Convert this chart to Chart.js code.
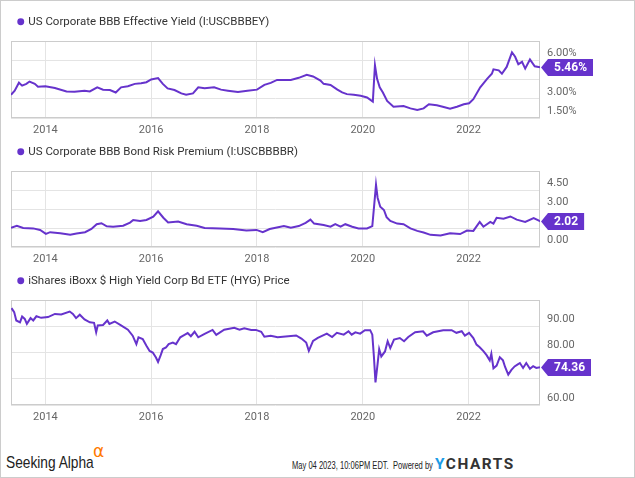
<!DOCTYPE html>
<html>
<head>
<meta charset="utf-8">
<script src="https://cdn.jsdelivr.net/npm/chart.js@4.4.0/dist/chart.umd.min.js"></script>
<style>
    html, body { margin: 0; padding: 0; background: #fff; }
    #frame { position: relative; width: 635px; height: 478px; overflow: hidden; background: #fff; }
    #edge { position: absolute; left: 0; top: 0; right: 0; bottom: 0; border: 1px solid #cccccc; pointer-events: none; }
    canvas.panel { position: absolute; left: 0; }
    .foot { position: absolute; white-space: nowrap; transform-origin: 0 50%; line-height: 1; }
    #sa { left: 6px; top: 454px; font-family: "Liberation Sans", sans-serif; font-size: 17px; color: #222; }
    #alpha { left: 93px; top: 443px; font-family: "DejaVu Sans", sans-serif; font-size: 17px; color: #ff7a00; }
    #stamp { left: 292px; top: 460px; font-family: "Liberation Sans", sans-serif; font-size: 11px; color: #222; }
    #yc { left: 435px; top: 457px; font-family: Roboto, "Liberation Sans", sans-serif; font-weight: bold; font-size: 15px; letter-spacing: 1.5px; color: #333; }
    #yc span { color: #1a9be6; }
</style>
</head>
<body>
<div id="frame">
    <canvas id="yield_chart" class="panel" width="635" height="130" style="top:8px"></canvas>
    <canvas id="premium_chart" class="panel" width="635" height="129" style="top:138px"></canvas>
    <canvas id="hyg_chart" class="panel" width="635" height="158" style="top:267px"></canvas>
    <div id="sa" class="foot" data-w="88">Seeking Alpha</div>
    <div id="alpha" class="foot" data-w="11">α</div>
    <div id="stamp" class="foot" data-w="141">May 04 2023, 10:06PM EDT.&nbsp; Powered by</div>
    <div id="yc" class="foot" data-w="80"><span>Y</span>CHARTS</div>
    <div id="edge"></div>
</div>
<script>
const purple = '#6633cc';
const xMin = 2013.35;
const xMax = 2023.35;
const yearTicks = [2014, 2016, 2018, 2020, 2022];

// US Corporate BBB Effective Yield (%)
const yieldDates = [2013.35, 2013.42, 2013.50, 2013.56, 2013.64, 2013.70, 2013.80, 2013.86, 2014.00, 2014.18,
    2014.40, 2014.55, 2014.74, 2014.84, 2014.98, 2015.09, 2015.22, 2015.33, 2015.43, 2015.56,
    2015.69, 2015.81, 2015.91, 2016.00, 2016.13, 2016.22, 2016.31, 2016.44, 2016.57, 2016.66,
    2016.79, 2016.89, 2017.01, 2017.19, 2017.32, 2017.45, 2017.64, 2017.82, 2018.00, 2018.14,
    2018.26, 2018.38, 2018.64, 2018.79, 2018.94, 2019.06, 2019.20, 2019.26, 2019.39, 2019.52,
    2019.61, 2019.70, 2019.83, 2019.96, 2020.08, 2020.19, 2020.23, 2020.27, 2020.32, 2020.38,
    2020.46, 2020.58, 2020.77, 2020.90, 2021.03, 2021.15, 2021.25, 2021.40, 2021.53, 2021.65,
    2021.78, 2021.91, 2022.01, 2022.09, 2022.22, 2022.35, 2022.44, 2022.47, 2022.57, 2022.63,
    2022.72, 2022.82, 2022.88, 2022.94, 2023.01, 2023.07, 2023.16, 2023.25, 2023.35];
const yieldValues = [3.31, 3.63, 4.25, 4.02, 4.16, 4.34, 4.16, 3.94, 3.97, 3.84,
    3.57, 3.55, 3.63, 3.57, 3.89, 3.71, 3.68, 3.49, 3.89, 3.97,
    4.16, 4.21, 4.29, 4.50, 4.61, 4.16, 3.81, 3.68, 3.42, 3.31,
    3.42, 3.89, 3.81, 3.89, 3.71, 3.63, 3.52, 3.63, 3.71, 4.08,
    4.24, 4.47, 4.47, 4.63, 4.87, 4.74, 4.42, 4.16, 4.08, 3.71,
    3.49, 3.36, 3.31, 3.23, 3.10, 2.78, 5.61, 4.55, 3.89, 3.49,
    2.83, 2.38, 2.44, 2.25, 2.12, 2.25, 2.57, 2.49, 2.36, 2.22,
    2.38, 2.57, 2.65, 2.97, 3.89, 4.55, 4.95, 5.29, 5.21, 4.95,
    5.48, 6.62, 6.27, 5.69, 5.88, 5.35, 6.06, 5.53, 5.46];
const yieldTicks = [1.5, 3, 4.5, 6];

// US Corporate BBB Bond Risk Premium
const premiumDates = [2013.35, 2013.46, 2013.58, 2013.77, 2013.90, 2014.01, 2014.09, 2014.28, 2014.47, 2014.59,
    2014.75, 2014.87, 2014.97, 2015.06, 2015.16, 2015.28, 2015.47, 2015.60, 2015.66, 2015.79,
    2015.91, 2016.04, 2016.13, 2016.23, 2016.32, 2016.51, 2016.67, 2016.86, 2017.01, 2017.30,
    2017.55, 2017.80, 2017.99, 2018.11, 2018.24, 2018.51, 2018.64, 2018.79, 2018.92, 2019.01,
    2019.08, 2019.26, 2019.39, 2019.48, 2019.58, 2019.67, 2019.80, 2019.92, 2020.08, 2020.18,
    2020.25, 2020.28, 2020.33, 2020.40, 2020.45, 2020.52, 2020.65, 2020.77, 2020.90, 2021.03,
    2021.15, 2021.28, 2021.47, 2021.65, 2021.84, 2021.97, 2022.09, 2022.21, 2022.28, 2022.41,
    2022.47, 2022.53, 2022.66, 2022.79, 2022.91, 2023.07, 2023.23, 2023.32, 2023.35];
const premiumValues = [1.52, 1.68, 1.50, 1.47, 1.35, 1.04, 1.17, 1.09, 0.96, 1.07,
    1.17, 1.42, 1.80, 1.88, 1.63, 1.60, 1.68, 1.93, 2.13, 2.06,
    2.13, 2.39, 2.82, 2.31, 1.93, 2.01, 1.80, 1.68, 1.50, 1.47,
    1.42, 1.30, 1.35, 1.17, 1.42, 1.65, 1.52, 1.65, 1.91, 2.16,
    1.85, 1.73, 1.60, 1.80, 1.60, 1.80, 1.60, 1.47, 1.47, 1.65,
    4.91, 3.89, 3.18, 2.92, 2.36, 2.06, 1.85, 1.80, 1.47, 1.27,
    1.14, 0.96, 0.91, 1.09, 1.02, 1.30, 1.27, 1.98, 1.60, 1.98,
    1.85, 2.31, 2.24, 2.41, 2.16, 1.98, 2.29, 2.11, 2.02];
const premiumTicks = [0, 1.5, 3, 4.5];

// iShares iBoxx $ High Yield Corp Bd ETF (HYG) Price
const hygDates = [2013.36, 2013.41, 2013.45, 2013.52, 2013.56, 2013.61, 2013.65, 2013.72, 2013.77, 2013.83,
    2013.92, 2014.05, 2014.18, 2014.30, 2014.46, 2014.52, 2014.58, 2014.65, 2014.74, 2014.84,
    2014.92, 2014.96, 2014.99, 2015.09, 2015.17, 2015.21, 2015.31, 2015.43, 2015.56, 2015.65,
    2015.72, 2015.76, 2015.84, 2015.91, 2015.97, 2016.03, 2016.09, 2016.13, 2016.18, 2016.22,
    2016.28, 2016.33, 2016.41, 2016.47, 2016.55, 2016.63, 2016.69, 2016.75, 2016.82, 2016.89,
    2017.01, 2017.16, 2017.23, 2017.38, 2017.57, 2017.67, 2017.76, 2017.89, 2017.98, 2018.08,
    2018.14, 2018.26, 2018.39, 2018.49, 2018.74, 2018.84, 2018.93, 2018.98, 2019.06, 2019.15,
    2019.32, 2019.42, 2019.51, 2019.64, 2019.73, 2019.79, 2019.86, 2019.95, 2020.04, 2020.14,
    2020.18, 2020.21, 2020.24, 2020.28, 2020.31, 2020.35, 2020.42, 2020.47, 2020.52, 2020.59,
    2020.70, 2020.78, 2020.86, 2020.99, 2021.14, 2021.21, 2021.33, 2021.52, 2021.68, 2021.77,
    2021.87, 2021.93, 2022.01, 2022.09, 2022.15, 2022.21, 2022.28, 2022.34, 2022.40, 2022.43,
    2022.47, 2022.53, 2022.59, 2022.65, 2022.69, 2022.75, 2022.81, 2022.87, 2022.93, 2022.97,
    2023.03, 2023.09, 2023.16, 2023.22, 2023.28, 2023.35];
const hygValues = [96.9, 95.4, 92.2, 91.5, 93.7, 92.8, 90.9, 93.1, 92.2, 93.8,
    93.2, 93.5, 94.7, 94.5, 95.6, 94.7, 93.1, 94.4, 92.6, 91.5,
    91.3, 87.7, 90.3, 90.5, 92.2, 90.9, 91.8, 90.3, 88.7, 86.4,
    83.2, 85.8, 85.1, 82.6, 80.6, 80.0, 78.1, 76.4, 79.0, 81.3,
    81.9, 83.2, 83.8, 83.2, 85.8, 86.7, 87.4, 86.2, 87.9, 85.8,
    87.1, 88.6, 86.7, 88.7, 89.4, 88.7, 89.2, 88.6, 88.6, 87.9,
    86.0, 86.4, 85.8, 86.0, 86.5, 85.3, 83.8, 80.6, 84.4, 85.6,
    87.2, 85.9, 87.5, 86.8, 88.1, 86.8, 87.7, 87.2, 88.5, 88.5,
    86.8, 78.5, 68.6, 75.7, 81.3, 78.5, 80.4, 84.3, 81.7, 84.9,
    85.5, 84.3, 85.9, 87.7, 88.1, 86.4, 87.7, 88.5, 88.5, 87.5,
    88.1, 86.4, 87.5, 85.5, 83.0, 82.0, 80.5, 79.0, 77.0, 79.5,
    74.0, 75.0, 78.2, 77.0, 74.5, 71.6, 73.4, 74.7, 75.5, 76.0,
    74.1, 76.0, 73.8, 74.8, 74.1, 74.36];
const hygTicks = [60, 70, 80, 90];

// keep the legend row a fixed height so the plot areas line up with the picture
const legendHeight = {
    id: 'legendHeight',
    afterInit(chart, args, opts) {
        const legend = chart.legend;
        const fit = legend.fit;
        legend.fit = function () {
            fit.call(this);
            this.height = opts.height;
        };
    }
};

const plotBorder = {
    id: 'plotBorder',
    beforeDatasetsDraw(chart) {
        const { ctx, chartArea } = chart;
        ctx.save();
        ctx.strokeStyle = '#cccccc';
        ctx.lineWidth = 1;
        ctx.strokeRect(chartArea.left + 0.5, chartArea.top + 0.5, chartArea.width - 1, chartArea.height - 1);
        ctx.restore();
    }
};

const endTag = {
    id: 'endTag',
    afterDraw(chart, args, opts) {
        const data = chart.data.datasets[0].data;
        const last = data[data.length - 1];
        const { ctx, chartArea } = chart;
        const y = Math.round(chart.scales.y.getPixelForValue(last.y)) + 0.5;
        const x = chartArea.right + 1;
        const text = opts.format(last.y);
        ctx.save();
        ctx.font = 'bold 12px Roboto';
        const w = ctx.measureText(text).width + 12;
        const h = 17;
        ctx.fillStyle = purple;
        ctx.beginPath();
        ctx.moveTo(x, y);
        ctx.lineTo(x + 7, y - h / 2);
        ctx.lineTo(x + 7 + w, y - h / 2);
        ctx.lineTo(x + 7 + w, y + h / 2);
        ctx.lineTo(x + 7, y + h / 2);
        ctx.closePath();
        ctx.fill();
        ctx.fillStyle = '#ffffff';
        ctx.textAlign = 'center';
        ctx.textBaseline = 'middle';
        ctx.fillText(text, x + 7 + w / 2, y + 0.5);
        ctx.restore();
    }
};

function criarPainel(canvasId, label, dates, values, yMin, yMax, yTicks, tickFmt, tagFmt, plotTop) {
    const ctx = document.getElementById(canvasId).getContext('2d');
    return new Chart(ctx, {
        type: 'line',
        data: {
            datasets: [{
                label: label,
                data: dates.map((d, i) => ({ x: d, y: values[i] })),
                borderColor: purple,
                backgroundColor: purple,
                borderWidth: 2,
                pointRadius: 0,
                tension: 0
            }]
        },
        options: {
            responsive: false,
            animation: false,
            layout: { padding: { left: 11, right: 0, top: 0, bottom: 0 } },
            plugins: {
                legend: {
                    position: 'top',
                    align: 'start',
                    labels: {
                        usePointStyle: true,
                        boxWidth: 3.5,
                        boxHeight: 3.5,
                        padding: 8,
                        color: '#333333',
                        font: { family: 'Roboto', size: 11.5 }
                    }
                },
                tooltip: { enabled: false },
                legendHeight: { height: plotTop },
                endTag: { format: tagFmt }
            },
            scales: {
                x: {
                    type: 'linear',
                    min: xMin,
                    max: xMax,
                    afterBuildTicks: scale => { scale.ticks = yearTicks.map(v => ({ value: v })); },
                    afterFit: scale => { scale.height = 20; },
                    grid: { color: '#e4e4e4', drawTicks: false },
                    border: { display: false },
                    ticks: {
                        padding: 6,
                        color: '#666666',
                        font: { family: 'Roboto', size: 11 },
                        maxRotation: 0,
                        callback: v => String(v)
                    }
                },
                y: {
                    position: 'right',
                    min: yMin,
                    max: yMax,
                    afterBuildTicks: scale => { scale.ticks = yTicks.map(v => ({ value: v })); },
                    afterFit: scale => { scale.width = 95; },
                    grid: { color: '#e4e4e4', drawTicks: false },
                    border: { display: false },
                    ticks: {
                        padding: 7,
                        labelOffset: -7,
                        color: '#666666',
                        font: { family: 'Roboto', size: 11 },
                        callback: tickFmt
                    }
                }
            }
        },
        plugins: [legendHeight, plotBorder, endTag]
    });
}

// the footer fonts are condensed; squeeze the text to its width in the picture
function ajustarRodape() {
    document.querySelectorAll('.foot[data-w]').forEach(el => {
        const alvo = parseFloat(el.dataset.w);
        el.style.transform = 'scaleX(' + (alvo / el.offsetWidth) + ')';
    });
}

window.onload = () => {
    ajustarRodape();
    criarPainel('yield_chart', 'US Corporate BBB Effective Yield (I:USCBBBEY)',
        yieldDates, yieldValues, 1.5, 7.5, yieldTicks,
        v => v.toFixed(2) + '%', v => v.toFixed(2) + '%', 33);
    criarPainel('premium_chart', 'US Corporate BBB Bond Risk Premium (I:USCBBBBR)',
        premiumDates, premiumValues, 0, 6, premiumTicks,
        v => v.toFixed(2), v => v.toFixed(2), 33);
    criarPainel('hyg_chart', 'iShares iBoxx $ High Yield Corp Bd ETF (HYG) Price',
        hygDates, hygValues, 60, 100, hygTicks,
        v => v.toFixed(2), v => v.toFixed(2), 33);
};
</script>
</body>
</html>
